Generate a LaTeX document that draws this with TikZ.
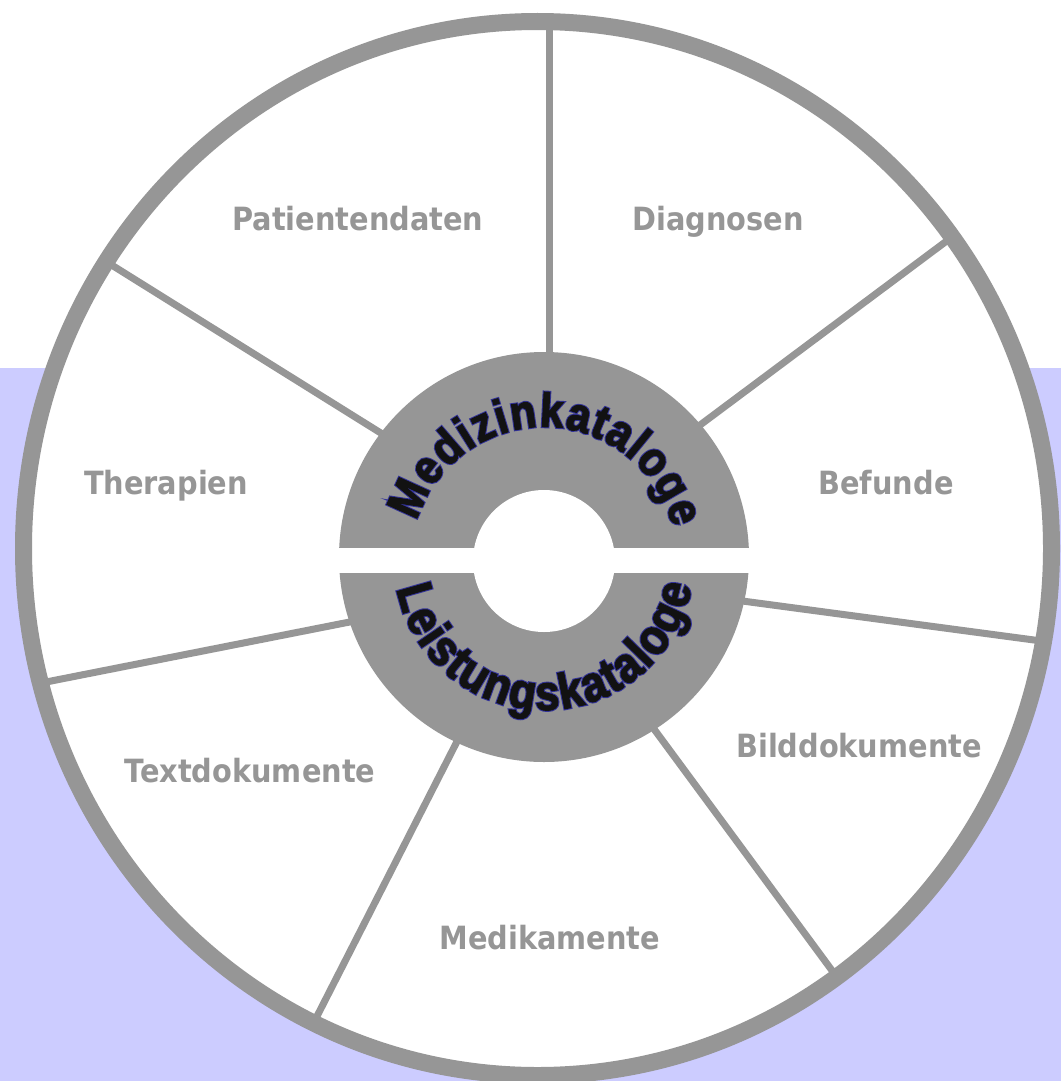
\documentclass[tikz,border=0pt]{standalone}
\usepackage{fontspec}
\usetikzlibrary{decorations.text}
\newfontfamily\labfont{DejaVu Sans Condensed Bold}
\newfontfamily\arcfill{Liberation Sans Bold}[FakeStretch=0.88, FakeBold=2]
\newfontfamily\arcout{Liberation Sans Bold}[FakeStretch=0.88, FakeBold=6]
\definecolor{ringgray}{RGB}{150,150,150}
\definecolor{bglav}{RGB}{204,204,255}
\definecolor{outblue}{RGB}{51,51,153}
\definecolor{arcink}{RGB}{18,18,18}
\tikzset{
  spoke/.style={draw=ringgray, line width=7pt},
  ringline/.style={draw=ringgray, line width=17pt},
  lab/.style={text=ringgray, font=\labfont\fontsize{32}{32}\selectfont, anchor=base, inner sep=0pt},
}
\begin{document}
\begin{tikzpicture}[x=1pt,y=-1pt]
\useasboundingbox (0,0) rectangle (1061,1081);
\fill[white] (0,0) rectangle (1061,1081);
\fill[bglav] (0,368) rectangle (1061,1081);
% big wheel
\coordinate (wc) at (537.5,548.5);
\fill[white] (wc) ellipse [x radius=514, y radius=527];
% spokes
\coordinate (h1) at (549,380); \coordinate (r1) at (549,18);
\coordinate (h2) at (400,445); \coordinate (r2) at (102,259);
\coordinate (h3) at (680,440); \coordinate (r3) at (956,234);
\coordinate (h4) at (720,598); \coordinate (r4) at (1049,642);
\coordinate (h5) at (640,710); \coordinate (r5) at (839,980);
\coordinate (h6) at (470,716); \coordinate (r6) at (311,1028);
\coordinate (h7) at (380,616); \coordinate (r7) at (36,684);
\foreach \i in {1,...,7} \draw[spoke] (h\i) -- (r\i);
\draw[ringline] (wc) ellipse [x radius=514, y radius=527];
% hub
\coordinate (hc) at (544,557);
\coordinate (hh) at (544,561);
\fill[ringgray] (hc) circle [radius=205];
\fill[white] (hh) circle [radius=71];
\fill[white] (330,548) rectangle (760,573);
% curved titles
\coordinate (tc) at (544,560);
\path[decorate, decoration={text along path, text align=fit to path,
  text={|\arcout\fontsize{48}{48}\selectfont\color{outblue}|Medizinkataloge}}]
  (tc) ++(-163:133) arc [start angle=-163, end angle=-14, radius=133];
\path[decorate, decoration={text along path, text align=fit to path,
  text={|\arcfill\fontsize{48}{48}\selectfont\color{arcink}|Medizinkataloge}}]
  (tc) ++(-163:133) arc [start angle=-163, end angle=-14, radius=133];
\path[decorate, decoration={text along path, text align=fit to path,
  text={|\arcout\fontsize{50}{50}\selectfont\color{outblue}|Leistungskataloge}}]
  (tc) ++(-191:150) arc [start angle=-191, end angle=-350, radius=150];
\path[decorate, decoration={text along path, text align=fit to path,
  text={|\arcfill\fontsize{50}{50}\selectfont\color{arcink}|Leistungskataloge}}]
  (tc) ++(-191:150) arc [start angle=-191, end angle=-350, radius=150];
% labels
\node[lab] (pat) at (358,230) {Patientendaten};
\node[lab] (dia) at (718,230) {Diagnosen};
\node[lab] (the) at (166,494) {Therapien};
\node[lab] (bef) at (886,494) {Befunde};
\node[lab] (bil) at (859,757) {Bilddokumente};
\node[lab] (tex) at (250,782) {Textdokumente};
\node[lab] (med) at (550,949) {Medikamente};
\end{tikzpicture}
\end{document}
